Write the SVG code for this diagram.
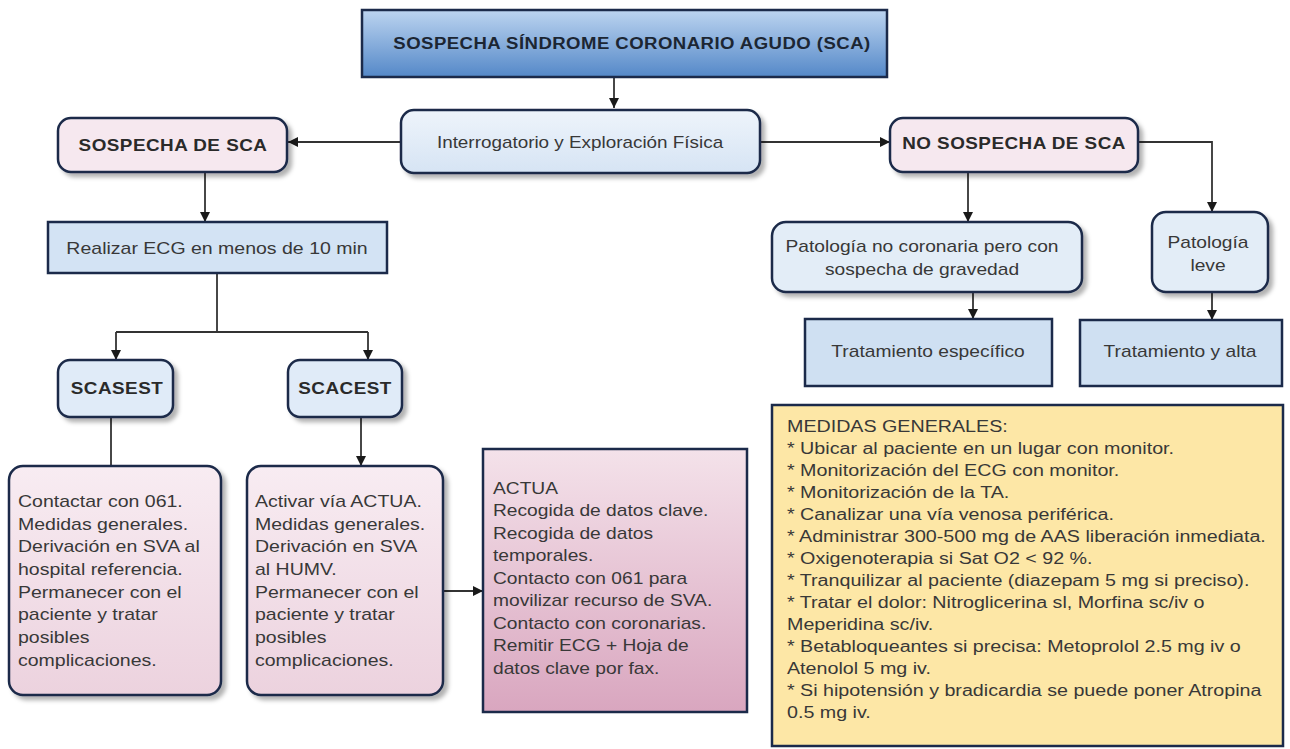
<svg xmlns="http://www.w3.org/2000/svg" width="1290" height="749" viewBox="0 0 1290 749">
<defs>
<linearGradient id="gTitle" x1="0" y1="0" x2="0" y2="1"><stop offset="0" stop-color="#bcd4f0"/><stop offset="1" stop-color="#5488c8"/></linearGradient>
<linearGradient id="gBlue" x1="0" y1="0" x2="0" y2="1"><stop offset="0" stop-color="#eef4fb"/><stop offset="1" stop-color="#d6e4f4"/></linearGradient>
<linearGradient id="gPink" x1="0" y1="0" x2="0" y2="1"><stop offset="0" stop-color="#f8ecf2"/><stop offset="1" stop-color="#ecd2de"/></linearGradient>
<linearGradient id="gActua" x1="0" y1="0" x2="0" y2="1"><stop offset="0" stop-color="#f4e2ea"/><stop offset="1" stop-color="#d9a6bf"/></linearGradient>
<filter id="sh" x="-10%" y="-10%" width="130%" height="140%"><feDropShadow dx="4" dy="4" stdDeviation="2" flood-color="#000" flood-opacity="0.3"/></filter>
<marker id="ah" viewBox="0 0 10 10" refX="10" refY="5" markerWidth="10" markerHeight="10" markerUnits="userSpaceOnUse" orient="auto"><path d="M0,0 L10,5 L0,10 z" fill="#1a1a1a"/></marker>
</defs>
<style>
.bx{stroke:#1b2a4a;stroke-width:2.5}
.t{font-family:"Liberation Sans",Arial,sans-serif;font-size:16px;fill:#383838}
.b{font-family:"Liberation Sans",Arial,sans-serif;font-size:16px;font-weight:bold;fill:#2a2a2a;letter-spacing:0.4px}
.c{text-anchor:middle}
.ln{fill:none;stroke:#333;stroke-width:1.8}
</style>
<rect width="1290" height="749" fill="#ffffff"/>

<g id="connectors">
<path class="ln" d="M614,77 V108" marker-end="url(#ah)"/>
<path class="ln" d="M401,142 H288" marker-end="url(#ah)"/>
<path class="ln" d="M760,142 H890" marker-end="url(#ah)"/>
<path class="ln" d="M205,172 V222" marker-end="url(#ah)"/>
<path class="ln" d="M217,273 V332"/>
<path class="ln" d="M116,332 H368"/>
<path class="ln" d="M116,332 V360" marker-end="url(#ah)"/>
<path class="ln" d="M368,332 V360" marker-end="url(#ah)"/>
<path class="ln" d="M111,417 V466"/>
<path class="ln" d="M361,417 V466" marker-end="url(#ah)"/>
<path class="ln" d="M443,591 H483" marker-end="url(#ah)"/>
<path class="ln" d="M968,172 V222" marker-end="url(#ah)"/>
<path class="ln" d="M1138,142 H1212 V212" marker-end="url(#ah)"/>
<path class="ln" d="M973,292 V319" marker-end="url(#ah)"/>
<path class="ln" d="M1212,292 V320" marker-end="url(#ah)"/>
</g>

<g id="title">
<rect class="bx" x="362" y="10" width="525" height="67" fill="url(#gTitle)"/>
<text class="b c" transform="translate(632,49) scale(1.16,1)" style="fill:#1c2633">SOSPECHA SÍNDROME CORONARIO AGUDO (SCA)</text>
</g>

<g id="interrogatorio">
<rect class="bx" x="401" y="110" width="359" height="63" rx="13" fill="url(#gBlue)" filter="url(#sh)"/>
<text class="t c" transform="translate(580,148) scale(1.18,1)">Interrogatorio y Exploración Física</text>
</g>

<g id="sospecha">
<rect class="bx" x="58" y="118" width="229" height="54" rx="13" fill="#f6e8ef" filter="url(#sh)"/>
<text class="b c" transform="translate(173,151) scale(1.18,1)">SOSPECHA DE SCA</text>
</g>

<g id="no-sospecha">
<rect class="bx" x="890" y="118" width="248" height="54" rx="13" fill="#f6e8ef" filter="url(#sh)"/>
<text class="b c" transform="translate(1014,149) scale(1.18,1)">NO SOSPECHA DE SCA</text>
</g>

<g id="ecg">
<rect class="bx" x="48" y="222" width="339" height="51" fill="#d3e3f4"/>
<text class="t c" transform="translate(217,254) scale(1.22,1)">Realizar ECG en menos de 10 min</text>
</g>

<g id="scasest">
<rect class="bx" x="58" y="360" width="115" height="57" rx="12" fill="#e0ebf8" filter="url(#sh)"/>
<text class="b c" transform="translate(117,394) scale(1.18,1)">SCASEST</text>
</g>

<g id="scacest">
<rect class="bx" x="288" y="360" width="114" height="57" rx="12" fill="#e0ebf8" filter="url(#sh)"/>
<text class="b c" transform="translate(345,394) scale(1.18,1)">SCACEST</text>
</g>

<g id="contactar">
<rect class="bx" x="9" y="466" width="212" height="229" rx="14" fill="url(#gPink)" filter="url(#sh)"/>
<text class="t" transform="translate(18,507) scale(1.22,1)"><tspan x="0">Contactar con 061.</tspan><tspan x="0" dy="22.7">Medidas generales.</tspan><tspan x="0" dy="22.7">Derivación en SVA al</tspan><tspan x="0" dy="22.7">hospital referencia.</tspan><tspan x="0" dy="22.7">Permanecer con el</tspan><tspan x="0" dy="22.7">paciente y tratar</tspan><tspan x="0" dy="22.7">posibles</tspan><tspan x="0" dy="22.7">complicaciones.</tspan></text>
</g>

<g id="activar">
<rect class="bx" x="247" y="466" width="196" height="229" rx="14" fill="url(#gPink)" filter="url(#sh)"/>
<text class="t" transform="translate(255,507) scale(1.22,1)"><tspan x="0">Activar vía ACTUA.</tspan><tspan x="0" dy="22.7">Medidas generales.</tspan><tspan x="0" dy="22.7">Derivación en SVA</tspan><tspan x="0" dy="22.7">al HUMV.</tspan><tspan x="0" dy="22.7">Permanecer con el</tspan><tspan x="0" dy="22.7">paciente y tratar</tspan><tspan x="0" dy="22.7">posibles</tspan><tspan x="0" dy="22.7">complicaciones.</tspan></text>
</g>

<g id="actua">
<rect class="bx" x="483" y="449" width="264" height="263" fill="url(#gActua)"/>
<text class="t" transform="translate(493,494) scale(1.2,1)"><tspan x="0">ACTUA</tspan><tspan x="0" dy="22.5">Recogida de datos clave.</tspan><tspan x="0" dy="22.5">Recogida de datos</tspan><tspan x="0" dy="22.5">temporales.</tspan><tspan x="0" dy="22.5">Contacto con 061 para</tspan><tspan x="0" dy="22.5">movilizar recurso de SVA.</tspan><tspan x="0" dy="22.5">Contacto con coronarias.</tspan><tspan x="0" dy="22.5">Remitir ECG + Hoja de</tspan><tspan x="0" dy="22.5">datos clave por fax.</tspan></text>
</g>

<g id="patologia-grave">
<rect class="bx" x="772" y="222" width="310" height="70" rx="14" fill="#e3edf7" filter="url(#sh)"/>
<text class="t c" transform="translate(922,252) scale(1.2,1)"><tspan x="0">Patología no coronaria pero con</tspan><tspan x="0" dy="23">sospecha de gravedad</tspan></text>
</g>

<g id="patologia-leve">
<rect class="bx" x="1152" y="212" width="116" height="80" rx="14" fill="#e3edf7" filter="url(#sh)"/>
<text class="t c" transform="translate(1208,248) scale(1.2,1)"><tspan x="0">Patología</tspan><tspan x="0" dy="23">leve</tspan></text>
</g>

<g id="tratamiento-especifico">
<rect class="bx" x="805" y="319" width="247" height="67" fill="#cfe0f2"/>
<text class="t c" transform="translate(928,357) scale(1.2,1)">Tratamiento específico</text>
</g>

<g id="tratamiento-alta">
<rect class="bx" x="1080" y="320" width="202" height="66" fill="#cfe0f2"/>
<text class="t c" transform="translate(1180,357) scale(1.2,1)">Tratamiento y alta</text>
</g>

<g id="medidas">
<rect class="bx" x="772" y="405" width="511" height="341" fill="#fde7a6"/>
<text class="t" transform="translate(787,432) scale(1.23,1)"><tspan x="0">MEDIDAS GENERALES:</tspan><tspan x="0" dy="22">* Ubicar al paciente en un lugar con monitor.</tspan><tspan x="0" dy="22">* Monitorización del ECG con monitor.</tspan><tspan x="0" dy="22">* Monitorización de la TA.</tspan><tspan x="0" dy="22">* Canalizar una vía venosa periférica.</tspan><tspan x="0" dy="22">* Administrar 300-500 mg de AAS liberación inmediata.</tspan><tspan x="0" dy="22">* Oxigenoterapia si Sat O2 &lt; 92 %.</tspan><tspan x="0" dy="22">* Tranquilizar al paciente (diazepam 5 mg si preciso).</tspan><tspan x="0" dy="22">* Tratar el dolor: Nitroglicerina sl, Morfina sc/iv o</tspan><tspan x="0" dy="22">Meperidina sc/iv.</tspan><tspan x="0" dy="22">* Betabloqueantes si precisa: Metoprolol 2.5 mg iv o</tspan><tspan x="0" dy="22">Atenolol 5 mg iv.</tspan><tspan x="0" dy="22">* Si hipotensión y bradicardia se puede poner Atropina</tspan><tspan x="0" dy="22">0.5 mg iv.</tspan></text>
</g>
</svg>
